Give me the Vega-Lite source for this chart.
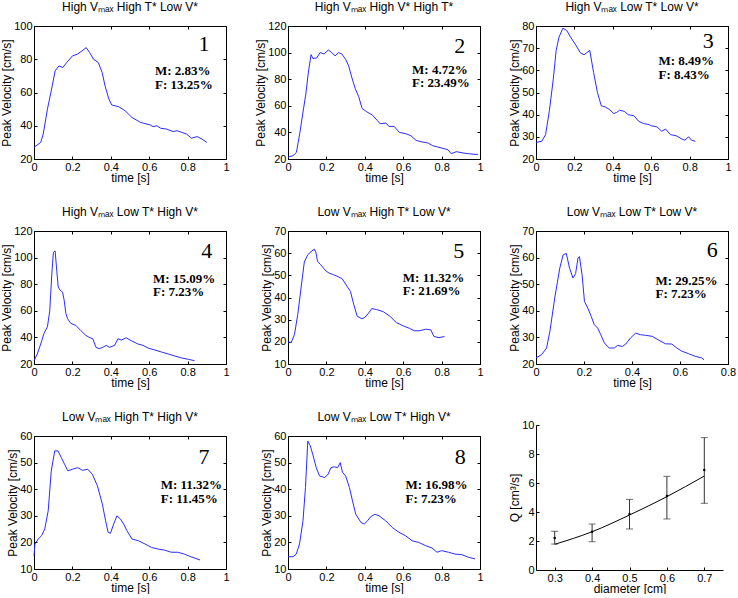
{
"$schema": "https://vega.github.io/schema/vega-lite/v6.json",
"padding": {"left": 0, "top": 0, "right": 0, "bottom": 0},
"background": "white",
"datasets": {
"p1": [{"t":0,"v":27},{"t":0.035,"v":30},{"t":0.048,"v":35},{"t":0.07,"v":50},{"t":0.095,"v":64},{"t":0.11,"v":73},{"t":0.13,"v":76},{"t":0.15,"v":75},{"t":0.17,"v":78},{"t":0.2,"v":82},{"t":0.225,"v":83},{"t":0.25,"v":85},{"t":0.272,"v":87},{"t":0.29,"v":84},{"t":0.31,"v":80},{"t":0.335,"v":78},{"t":0.355,"v":72},{"t":0.37,"v":64},{"t":0.39,"v":56},{"t":0.405,"v":52.5},{"t":0.44,"v":51.5},{"t":0.475,"v":49},{"t":0.51,"v":45},{"t":0.555,"v":42},{"t":0.605,"v":40.5},{"t":0.62,"v":39.5},{"t":0.64,"v":40},{"t":0.66,"v":38.5},{"t":0.69,"v":38},{"t":0.725,"v":36.5},{"t":0.745,"v":37},{"t":0.77,"v":36},{"t":0.795,"v":35},{"t":0.82,"v":32.5},{"t":0.85,"v":33.5},{"t":0.875,"v":32},{"t":0.9,"v":30}],
"p2": [{"t":0,"v":21.5},{"t":0.026,"v":22.5},{"t":0.044,"v":25},{"t":0.061,"v":39},{"t":0.079,"v":56},{"t":0.093,"v":69},{"t":0.105,"v":84},{"t":0.12,"v":98.5},{"t":0.13,"v":95.5},{"t":0.15,"v":96},{"t":0.167,"v":100},{"t":0.188,"v":99},{"t":0.21,"v":102},{"t":0.228,"v":100},{"t":0.245,"v":97.5},{"t":0.263,"v":100},{"t":0.28,"v":99},{"t":0.3,"v":95},{"t":0.316,"v":90},{"t":0.333,"v":81},{"t":0.35,"v":73},{"t":0.368,"v":67},{"t":0.386,"v":58},{"t":0.41,"v":55.5},{"t":0.44,"v":53},{"t":0.465,"v":49},{"t":0.48,"v":46.5},{"t":0.51,"v":47},{"t":0.526,"v":44.5},{"t":0.553,"v":44.5},{"t":0.58,"v":40},{"t":0.614,"v":39},{"t":0.64,"v":37.5},{"t":0.667,"v":34},{"t":0.693,"v":33},{"t":0.73,"v":32},{"t":0.754,"v":30},{"t":0.78,"v":29},{"t":0.807,"v":28},{"t":0.833,"v":27},{"t":0.85,"v":24},{"t":0.877,"v":25.5},{"t":0.912,"v":24.5},{"t":0.94,"v":24},{"t":0.974,"v":23.5},{"t":0.99,"v":23.5}],
"p3": [{"t":0,"v":27.5},{"t":0.03,"v":28},{"t":0.05,"v":31},{"t":0.07,"v":42},{"t":0.09,"v":56},{"t":0.105,"v":69},{"t":0.12,"v":75},{"t":0.14,"v":79},{"t":0.16,"v":78},{"t":0.18,"v":75},{"t":0.21,"v":71},{"t":0.23,"v":68},{"t":0.25,"v":67},{"t":0.265,"v":68},{"t":0.28,"v":69},{"t":0.3,"v":59},{"t":0.32,"v":50},{"t":0.34,"v":44},{"t":0.36,"v":43.5},{"t":0.38,"v":42.5},{"t":0.405,"v":40.5},{"t":0.42,"v":41},{"t":0.435,"v":42},{"t":0.46,"v":41.5},{"t":0.48,"v":40},{"t":0.51,"v":39.5},{"t":0.535,"v":37},{"t":0.56,"v":36},{"t":0.59,"v":35.5},{"t":0.6,"v":35},{"t":0.63,"v":34.5},{"t":0.655,"v":32.5},{"t":0.675,"v":33.5},{"t":0.7,"v":31},{"t":0.73,"v":30.5},{"t":0.76,"v":29},{"t":0.775,"v":28.5},{"t":0.795,"v":30},{"t":0.81,"v":28.5},{"t":0.83,"v":28}],
"p4": [{"t":0,"v":22.5},{"t":0.017,"v":27.5},{"t":0.035,"v":35},{"t":0.052,"v":43},{"t":0.07,"v":48},{"t":0.082,"v":60},{"t":0.093,"v":88},{"t":0.101,"v":104},{"t":0.11,"v":105},{"t":0.117,"v":93},{"t":0.126,"v":78},{"t":0.136,"v":75.5},{"t":0.149,"v":74},{"t":0.157,"v":68},{"t":0.166,"v":58},{"t":0.175,"v":54},{"t":0.192,"v":50.5},{"t":0.218,"v":49},{"t":0.245,"v":45},{"t":0.27,"v":41.5},{"t":0.288,"v":40},{"t":0.306,"v":39},{"t":0.323,"v":32.5},{"t":0.34,"v":31.5},{"t":0.358,"v":32.5},{"t":0.376,"v":34},{"t":0.393,"v":32.5},{"t":0.42,"v":34},{"t":0.437,"v":39},{"t":0.455,"v":38},{"t":0.48,"v":39.7},{"t":0.507,"v":37.5},{"t":0.542,"v":35},{"t":0.568,"v":34},{"t":0.594,"v":32},{"t":0.63,"v":30.5},{"t":0.664,"v":29},{"t":0.7,"v":27.5},{"t":0.734,"v":26},{"t":0.77,"v":24.5},{"t":0.804,"v":23.5},{"t":0.836,"v":22.5}],
"p5": [{"t":0,"v":20},{"t":0.017,"v":19.7},{"t":0.034,"v":23.4},{"t":0.051,"v":32.4},{"t":0.068,"v":44.3},{"t":0.085,"v":56},{"t":0.103,"v":59.3},{"t":0.12,"v":60.7},{"t":0.137,"v":61.8},{"t":0.145,"v":60.5},{"t":0.154,"v":56.3},{"t":0.17,"v":54.8},{"t":0.197,"v":52},{"t":0.214,"v":51},{"t":0.23,"v":50.5},{"t":0.256,"v":49.6},{"t":0.282,"v":48.5},{"t":0.308,"v":45},{"t":0.325,"v":42.8},{"t":0.342,"v":37},{"t":0.36,"v":31.6},{"t":0.385,"v":30.4},{"t":0.4,"v":31},{"t":0.42,"v":33},{"t":0.436,"v":35},{"t":0.46,"v":34.6},{"t":0.496,"v":33.6},{"t":0.53,"v":31.6},{"t":0.564,"v":28.7},{"t":0.6,"v":27.2},{"t":0.632,"v":26.1},{"t":0.658,"v":25},{"t":0.684,"v":25},{"t":0.718,"v":25.7},{"t":0.744,"v":25.4},{"t":0.76,"v":22.4},{"t":0.786,"v":21.9},{"t":0.815,"v":22.4}],
"p6": [{"t":0,"v":22.3},{"t":0.023,"v":23.5},{"t":0.044,"v":26},{"t":0.058,"v":32.3},{"t":0.078,"v":44.8},{"t":0.099,"v":56},{"t":0.113,"v":61},{"t":0.126,"v":61.6},{"t":0.14,"v":56},{"t":0.154,"v":52.3},{"t":0.165,"v":54},{"t":0.175,"v":59.8},{"t":0.181,"v":60.4},{"t":0.192,"v":53.5},{"t":0.202,"v":43.5},{"t":0.216,"v":41},{"t":0.23,"v":37.9},{"t":0.243,"v":34.8},{"t":0.257,"v":33.5},{"t":0.27,"v":31},{"t":0.285,"v":27.9},{"t":0.305,"v":26},{"t":0.326,"v":26},{"t":0.34,"v":27},{"t":0.36,"v":26.6},{"t":0.374,"v":27.5},{"t":0.394,"v":29.8},{"t":0.415,"v":31.6},{"t":0.436,"v":31},{"t":0.456,"v":30.8},{"t":0.484,"v":30.4},{"t":0.511,"v":29},{"t":0.539,"v":27.6},{"t":0.566,"v":27.5},{"t":0.587,"v":26},{"t":0.608,"v":24.8},{"t":0.635,"v":23.9},{"t":0.663,"v":22.9},{"t":0.69,"v":22.3},{"t":0.7,"v":21.6}],
"p7": [{"t":0,"v":15},{"t":0.005,"v":19.4},{"t":0.022,"v":21.3},{"t":0.039,"v":22.5},{"t":0.056,"v":25},{"t":0.074,"v":31.9},{"t":0.09,"v":46.9},{"t":0.108,"v":54.4},{"t":0.125,"v":54.4},{"t":0.142,"v":51.9},{"t":0.159,"v":49.4},{"t":0.176,"v":46.9},{"t":0.2,"v":47.5},{"t":0.227,"v":48.1},{"t":0.253,"v":47.1},{"t":0.28,"v":47.5},{"t":0.304,"v":45.6},{"t":0.33,"v":41.3},{"t":0.356,"v":34.4},{"t":0.373,"v":28.1},{"t":0.386,"v":23.8},{"t":0.398,"v":23.4},{"t":0.415,"v":26.9},{"t":0.432,"v":30},{"t":0.45,"v":28.8},{"t":0.467,"v":26.9},{"t":0.484,"v":24.4},{"t":0.51,"v":21.3},{"t":0.544,"v":20.6},{"t":0.578,"v":19.4},{"t":0.612,"v":18.1},{"t":0.646,"v":17.5},{"t":0.68,"v":17.1},{"t":0.715,"v":16.3},{"t":0.749,"v":16.3},{"t":0.783,"v":15.6},{"t":0.817,"v":14.6},{"t":0.865,"v":13.4}],
"p8": [{"t":0,"v":14.6},{"t":0.026,"v":14.6},{"t":0.043,"v":15.6},{"t":0.06,"v":19.4},{"t":0.078,"v":28.1},{"t":0.091,"v":40.6},{"t":0.103,"v":58.1},{"t":0.116,"v":56.3},{"t":0.129,"v":53.1},{"t":0.147,"v":48.1},{"t":0.164,"v":45},{"t":0.19,"v":44.4},{"t":0.207,"v":45.4},{"t":0.224,"v":48.1},{"t":0.241,"v":48.4},{"t":0.259,"v":48.1},{"t":0.272,"v":50},{"t":0.284,"v":46.3},{"t":0.3,"v":45},{"t":0.32,"v":40.6},{"t":0.336,"v":35.6},{"t":0.353,"v":30.6},{"t":0.38,"v":27.5},{"t":0.397,"v":26.9},{"t":0.414,"v":28.1},{"t":0.43,"v":29.6},{"t":0.453,"v":30.6},{"t":0.474,"v":30},{"t":0.509,"v":28.1},{"t":0.543,"v":25.6},{"t":0.578,"v":23.8},{"t":0.612,"v":22.5},{"t":0.647,"v":20.6},{"t":0.681,"v":20},{"t":0.716,"v":18.8},{"t":0.75,"v":17.9},{"t":0.776,"v":16.3},{"t":0.8,"v":16.9},{"t":0.836,"v":16.3},{"t":0.87,"v":15.6},{"t":0.905,"v":15.4},{"t":0.94,"v":14.4},{"t":0.974,"v":13.8}],
"q9": [{"d":0.3,"fit":1.77,"mean":2.2,"lo":1.79,"hi":2.67},{"d":0.4,"fit":2.64,"mean":2.64,"lo":1.95,"hi":3.17},{"d":0.5,"fit":3.79,"mean":3.86,"lo":2.83,"hi":4.87},{"d":0.6,"fit":5.06,"mean":5.1,"lo":3.52,"hi":6.46},{"d":0.7,"fit":6.48,"mean":6.9,"lo":4.6,"hi":9.13}]
},
"concat": [
{"width":192,"height":133,"title":"High Vₘₐₓ High T* Low V*",
 "layer":[
  {"data":{"name":"p1"},"mark":{"type":"line","color":"#2b2bff","strokeWidth":1},
   "encoding":{"x":{"field":"t","type":"quantitative","scale":{"domain":[0,1]},"axis":{"values":[0,0.2,0.4,0.6,0.8,1],"format":"~g","title":"time [s]"}},
               "y":{"field":"v","type":"quantitative","scale":{"domain":[20,100]},"axis":{"values":[20,40,60,80,100],"title":"Peak Velocity [cm/s]"}}}},
  {"data":{"values":[{"label":"1"}]},"mark":{"type":"text","font":"Liberation Serif","fontSize":22,"align":"center","baseline":"alphabetic"},
   "encoding":{"text":{"field":"label"},"x":{"datum":0.886,"type":"quantitative","axis":{"orient":"top","values":[0,0.2,0.4,0.6,0.8,1],"labels":false,"title":null}},"y":{"datum":85,"type":"quantitative","axis":{"orient":"right","values":[20,40,60,80,100],"labels":false,"title":null}}}},
  {"data":{"values":[{"label":"M: 2.83%"}]},"mark":{"type":"text","font":"Liberation Serif","fontWeight":"bold","fontSize":13,"align":"left","baseline":"alphabetic"},
   "encoding":{"text":{"field":"label"},"x":{"datum":0.63,"type":"quantitative","axis":null},"y":{"datum":70.4,"type":"quantitative","axis":null}}},
  {"data":{"values":[{"label":"F: 13.25%"}]},"mark":{"type":"text","font":"Liberation Serif","fontWeight":"bold","fontSize":13,"align":"left","baseline":"alphabetic"},
   "encoding":{"text":{"field":"label"},"x":{"datum":0.63,"type":"quantitative","axis":null},"y":{"datum":62,"type":"quantitative","axis":null}}}
 ],
 "resolve":{"axis":{"x":"independent","y":"independent"}}},
{"width":192,"height":133,"title":"High Vₘₐₓ High V* High T*",
 "layer":[
  {"data":{"name":"p2"},"mark":{"type":"line","color":"#2b2bff","strokeWidth":1},
   "encoding":{"x":{"field":"t","type":"quantitative","scale":{"domain":[0,1]},"axis":{"values":[0,0.2,0.4,0.6,0.8,1],"format":"~g","title":"time [s]"}},
               "y":{"field":"v","type":"quantitative","scale":{"domain":[20,120]},"axis":{"values":[20,40,60,80,100,120],"title":"Peak Velocity [cm/s]"}}}},
  {"data":{"values":[{"label":"2"}]},"mark":{"type":"text","font":"Liberation Serif","fontSize":22,"align":"center","baseline":"alphabetic"},
   "encoding":{"text":{"field":"label"},"x":{"datum":0.895,"type":"quantitative","axis":{"orient":"top","values":[0,0.2,0.4,0.6,0.8,1],"labels":false,"title":null}},"y":{"datum":100,"type":"quantitative","axis":{"orient":"right","values":[20,40,60,80,100,120],"labels":false,"title":null}}}},
  {"data":{"values":[{"label":"M: 4.72%"}]},"mark":{"type":"text","font":"Liberation Serif","fontWeight":"bold","fontSize":13,"align":"left","baseline":"alphabetic"},
   "encoding":{"text":{"field":"label"},"x":{"datum":0.646,"type":"quantitative","axis":null},"y":{"datum":84,"type":"quantitative","axis":null}}},
  {"data":{"values":[{"label":"F: 23.49%"}]},"mark":{"type":"text","font":"Liberation Serif","fontWeight":"bold","fontSize":13,"align":"left","baseline":"alphabetic"},
   "encoding":{"text":{"field":"label"},"x":{"datum":0.646,"type":"quantitative","axis":null},"y":{"datum":74,"type":"quantitative","axis":null}}}
 ],
 "resolve":{"axis":{"x":"independent","y":"independent"}}},
{"width":192,"height":133,"title":"High Vₘₐₓ Low T* Low V*",
 "layer":[
  {"data":{"name":"p3"},"mark":{"type":"line","color":"#2b2bff","strokeWidth":1},
   "encoding":{"x":{"field":"t","type":"quantitative","scale":{"domain":[0,1]},"axis":{"values":[0,0.2,0.4,0.6,0.8,1],"format":"~g","title":"time [s]"}},
               "y":{"field":"v","type":"quantitative","scale":{"domain":[20,80]},"axis":{"values":[20,30,40,50,60,70,80],"title":"Peak Velocity [cm/s]"}}}},
  {"data":{"values":[{"label":"3"}]},"mark":{"type":"text","font":"Liberation Serif","fontSize":22,"align":"center","baseline":"alphabetic"},
   "encoding":{"text":{"field":"label"},"x":{"datum":0.897,"type":"quantitative","axis":{"orient":"top","values":[0,0.2,0.4,0.6,0.8,1],"labels":false,"title":null}},"y":{"datum":70,"type":"quantitative","axis":{"orient":"right","values":[20,30,40,50,60,70,80],"labels":false,"title":null}}}},
  {"data":{"values":[{"label":"M: 8.49%"}]},"mark":{"type":"text","font":"Liberation Serif","fontWeight":"bold","fontSize":13,"align":"left","baseline":"alphabetic"},
   "encoding":{"text":{"field":"label"},"x":{"datum":0.638,"type":"quantitative","axis":null},"y":{"datum":62.5,"type":"quantitative","axis":null}}},
  {"data":{"values":[{"label":"F: 8.43%"}]},"mark":{"type":"text","font":"Liberation Serif","fontWeight":"bold","fontSize":13,"align":"left","baseline":"alphabetic"},
   "encoding":{"text":{"field":"label"},"x":{"datum":0.638,"type":"quantitative","axis":null},"y":{"datum":56,"type":"quantitative","axis":null}}}
 ],
 "resolve":{"axis":{"x":"independent","y":"independent"}}},
{"width":192,"height":133,"title":"High Vₘₐₓ Low T* High V*",
 "layer":[
  {"data":{"name":"p4"},"mark":{"type":"line","color":"#2b2bff","strokeWidth":1},
   "encoding":{"x":{"field":"t","type":"quantitative","scale":{"domain":[0,1]},"axis":{"values":[0,0.2,0.4,0.6,0.8,1],"format":"~g","title":"time [s]"}},
               "y":{"field":"v","type":"quantitative","scale":{"domain":[20,120]},"axis":{"values":[20,40,60,80,100,120],"title":"Peak Velocity [cm/s]"}}}},
  {"data":{"values":[{"label":"4"}]},"mark":{"type":"text","font":"Liberation Serif","fontSize":22,"align":"center","baseline":"alphabetic"},
   "encoding":{"text":{"field":"label"},"x":{"datum":0.9,"type":"quantitative","axis":{"orient":"top","values":[0,0.2,0.4,0.6,0.8,1],"labels":false,"title":null}},"y":{"datum":99.7,"type":"quantitative","axis":{"orient":"right","values":[20,40,60,80,100,120],"labels":false,"title":null}}}},
  {"data":{"values":[{"label":"M: 15.09%"}]},"mark":{"type":"text","font":"Liberation Serif","fontWeight":"bold","fontSize":13,"align":"left","baseline":"alphabetic"},
   "encoding":{"text":{"field":"label"},"x":{"datum":0.62,"type":"quantitative","axis":null},"y":{"datum":81,"type":"quantitative","axis":null}}},
  {"data":{"values":[{"label":"F: 7.23%"}]},"mark":{"type":"text","font":"Liberation Serif","fontWeight":"bold","fontSize":13,"align":"left","baseline":"alphabetic"},
   "encoding":{"text":{"field":"label"},"x":{"datum":0.62,"type":"quantitative","axis":null},"y":{"datum":71,"type":"quantitative","axis":null}}}
 ],
 "resolve":{"axis":{"x":"independent","y":"independent"}}},
{"width":192,"height":133,"title":"Low Vₘₐₓ High T* Low V*",
 "layer":[
  {"data":{"name":"p5"},"mark":{"type":"line","color":"#2b2bff","strokeWidth":1},
   "encoding":{"x":{"field":"t","type":"quantitative","scale":{"domain":[0,1]},"axis":{"values":[0,0.2,0.4,0.6,0.8,1],"format":"~g","title":"time [s]"}},
               "y":{"field":"v","type":"quantitative","scale":{"domain":[10,70]},"axis":{"values":[10,20,30,40,50,60,70],"title":"Peak Velocity [cm/s]"}}}},
  {"data":{"values":[{"label":"5"}]},"mark":{"type":"text","font":"Liberation Serif","fontSize":22,"align":"center","baseline":"alphabetic"},
   "encoding":{"text":{"field":"label"},"x":{"datum":0.889,"type":"quantitative","axis":{"orient":"top","values":[0,0.2,0.4,0.6,0.8,1],"labels":false,"title":null}},"y":{"datum":57.8,"type":"quantitative","axis":{"orient":"right","values":[10,20,30,40,50,60,70],"labels":false,"title":null}}}},
  {"data":{"values":[{"label":"M: 11.32%"}]},"mark":{"type":"text","font":"Liberation Serif","fontWeight":"bold","fontSize":13,"align":"left","baseline":"alphabetic"},
   "encoding":{"text":{"field":"label"},"x":{"datum":0.598,"type":"quantitative","axis":null},"y":{"datum":47,"type":"quantitative","axis":null}}},
  {"data":{"values":[{"label":"F: 21.69%"}]},"mark":{"type":"text","font":"Liberation Serif","fontWeight":"bold","fontSize":13,"align":"left","baseline":"alphabetic"},
   "encoding":{"text":{"field":"label"},"x":{"datum":0.598,"type":"quantitative","axis":null},"y":{"datum":41,"type":"quantitative","axis":null}}}
 ],
 "resolve":{"axis":{"x":"independent","y":"independent"}}},
{"width":192,"height":133,"title":"Low Vₘₐₓ Low T* Low V*",
 "layer":[
  {"data":{"name":"p6"},"mark":{"type":"line","color":"#2b2bff","strokeWidth":1},
   "encoding":{"x":{"field":"t","type":"quantitative","scale":{"domain":[0,0.8]},"axis":{"values":[0,0.2,0.4,0.6,0.8],"format":"~g","title":"time [s]"}},
               "y":{"field":"v","type":"quantitative","scale":{"domain":[20,70]},"axis":{"values":[20,30,40,50,60,70],"title":"Peak Velocity [cm/s]"}}}},
  {"data":{"values":[{"label":"6"}]},"mark":{"type":"text","font":"Liberation Serif","fontSize":22,"align":"center","baseline":"alphabetic"},
   "encoding":{"text":{"field":"label"},"x":{"datum":0.734,"type":"quantitative","axis":{"orient":"top","values":[0,0.2,0.4,0.6,0.8],"labels":false,"title":null}},"y":{"datum":60.4,"type":"quantitative","axis":{"orient":"right","values":[20,30,40,50,60,70],"labels":false,"title":null}}}},
  {"data":{"values":[{"label":"M: 29.25%"}]},"mark":{"type":"text","font":"Liberation Serif","fontWeight":"bold","fontSize":13,"align":"left","baseline":"alphabetic"},
   "encoding":{"text":{"field":"label"},"x":{"datum":0.498,"type":"quantitative","axis":null},"y":{"datum":49.75,"type":"quantitative","axis":null}}},
  {"data":{"values":[{"label":"F: 7.23%"}]},"mark":{"type":"text","font":"Liberation Serif","fontWeight":"bold","fontSize":13,"align":"left","baseline":"alphabetic"},
   "encoding":{"text":{"field":"label"},"x":{"datum":0.498,"type":"quantitative","axis":null},"y":{"datum":44.75,"type":"quantitative","axis":null}}}
 ],
 "resolve":{"axis":{"x":"independent","y":"independent"}}},
{"width":192,"height":133,"title":"Low Vₘₐₓ High T* High V*",
 "layer":[
  {"data":{"name":"p7"},"mark":{"type":"line","color":"#2b2bff","strokeWidth":1},
   "encoding":{"x":{"field":"t","type":"quantitative","scale":{"domain":[0,1]},"axis":{"values":[0,0.2,0.4,0.6,0.8,1],"format":"~g","title":"time [s]"}},
               "y":{"field":"v","type":"quantitative","scale":{"domain":[10,60]},"axis":{"values":[10,20,30,40,50,60],"title":"Peak Velocity [cm/s]"}}}},
  {"data":{"values":[{"label":"7"}]},"mark":{"type":"text","font":"Liberation Serif","fontSize":22,"align":"center","baseline":"alphabetic"},
   "encoding":{"text":{"field":"label"},"x":{"datum":0.885,"type":"quantitative","axis":{"orient":"top","values":[0,0.2,0.4,0.6,0.8,1],"labels":false,"title":null}},"y":{"datum":49.4,"type":"quantitative","axis":{"orient":"right","values":[10,20,30,40,50,60],"labels":false,"title":null}}}},
  {"data":{"values":[{"label":"M: 11.32%"}]},"mark":{"type":"text","font":"Liberation Serif","fontWeight":"bold","fontSize":13,"align":"left","baseline":"alphabetic"},
   "encoding":{"text":{"field":"label"},"x":{"datum":0.66,"type":"quantitative","axis":null},"y":{"datum":40,"type":"quantitative","axis":null}}},
  {"data":{"values":[{"label":"F: 11.45%"}]},"mark":{"type":"text","font":"Liberation Serif","fontWeight":"bold","fontSize":13,"align":"left","baseline":"alphabetic"},
   "encoding":{"text":{"field":"label"},"x":{"datum":0.66,"type":"quantitative","axis":null},"y":{"datum":35,"type":"quantitative","axis":null}}}
 ],
 "resolve":{"axis":{"x":"independent","y":"independent"}}},
{"width":192,"height":133,"title":"Low Vₘₐₓ Low T* High V*",
 "layer":[
  {"data":{"name":"p8"},"mark":{"type":"line","color":"#2b2bff","strokeWidth":1},
   "encoding":{"x":{"field":"t","type":"quantitative","scale":{"domain":[0,1]},"axis":{"values":[0,0.2,0.4,0.6,0.8,1],"format":"~g","title":"time [s]"}},
               "y":{"field":"v","type":"quantitative","scale":{"domain":[10,60]},"axis":{"values":[10,20,30,40,50,60],"title":"Peak Velocity [cm/s]"}}}},
  {"data":{"values":[{"label":"8"}]},"mark":{"type":"text","font":"Liberation Serif","fontSize":22,"align":"center","baseline":"alphabetic"},
   "encoding":{"text":{"field":"label"},"x":{"datum":0.897,"type":"quantitative","axis":{"orient":"top","values":[0,0.2,0.4,0.6,0.8,1],"labels":false,"title":null}},"y":{"datum":49.4,"type":"quantitative","axis":{"orient":"right","values":[10,20,30,40,50,60],"labels":false,"title":null}}}},
  {"data":{"values":[{"label":"M: 16.98%"}]},"mark":{"type":"text","font":"Liberation Serif","fontWeight":"bold","fontSize":13,"align":"left","baseline":"alphabetic"},
   "encoding":{"text":{"field":"label"},"x":{"datum":0.612,"type":"quantitative","axis":null},"y":{"datum":40,"type":"quantitative","axis":null}}},
  {"data":{"values":[{"label":"F: 7.23%"}]},"mark":{"type":"text","font":"Liberation Serif","fontWeight":"bold","fontSize":13,"align":"left","baseline":"alphabetic"},
   "encoding":{"text":{"field":"label"},"x":{"datum":0.612,"type":"quantitative","axis":null},"y":{"datum":35,"type":"quantitative","axis":null}}}
 ],
 "resolve":{"axis":{"x":"independent","y":"independent"}}},
{"width":187,"height":145,"view":{"stroke":null},
 "title":{"text":" ","fontSize":2,"offset":7},
 "data":{"name":"q9"},
 "layer":[
  {"mark":{"type":"line","color":"black","strokeWidth":1,"interpolate":"monotone"},
   "encoding":{"x":{"field":"d","type":"quantitative","title":"diameter [cm]","scale":{"domain":[0.25,0.75]},"axis":{"values":[0.3,0.4,0.5,0.6,0.7],"format":"~g","domain":true,"domainColor":"black"}},
               "y":{"field":"fit","type":"quantitative","title":"Q [cm³/s]","scale":{"domain":[0,10]},"axis":{"values":[0,2,4,6,8,10],"domain":true,"domainColor":"black"}}}},
  {"mark":{"type":"errorbar","ticks":{"size":7,"color":"#333333"},"rule":{"color":"#333333"}},
   "encoding":{"x":{"field":"d","type":"quantitative","title":"diameter [cm]","axis":{"values":[0.3,0.4,0.5,0.6,0.7],"format":"~g","domain":true,"domainColor":"black"}},"y":{"field":"lo","type":"quantitative","title":"Q [cm³/s]","axis":{"values":[0,2,4,6,8,10],"domain":true,"domainColor":"black"}},"y2":{"field":"hi"}}},
  {"mark":{"type":"point","filled":true,"size":6,"color":"black","opacity":1},
   "encoding":{"x":{"field":"d","type":"quantitative","title":"diameter [cm]","axis":{"values":[0.3,0.4,0.5,0.6,0.7],"format":"~g","domain":true,"domainColor":"black"}},"y":{"field":"mean","type":"quantitative","title":"Q [cm³/s]","axis":{"values":[0,2,4,6,8,10],"domain":true,"domainColor":"black"}}}}
 ]}
],
"columns": 3,
"spacing": {"row": 21, "column": 24},
"align": {"row": "none", "column": "each"},
"config": {
 "font": "Liberation Sans",
 "view": {"stroke": "black", "strokeWidth": 1},
 "axis": {"grid": false, "domain": false, "tickColor": "black", "tickSize": -3, "labelColor": "black", "labelFontSize": 11, "labelFont": "Liberation Sans", "titleFont": "Liberation Sans", "titleFontSize": 12, "titleFontWeight": "normal", "titleColor": "black", "labelFlush": false, "labelOverlap": false, "labelPadding": 5, "titlePadding": 0},
 "title": {"font": "Liberation Sans", "fontSize": 12, "fontWeight": "normal", "color": "black", "offset": 6, "frame": "group"}
}
}
